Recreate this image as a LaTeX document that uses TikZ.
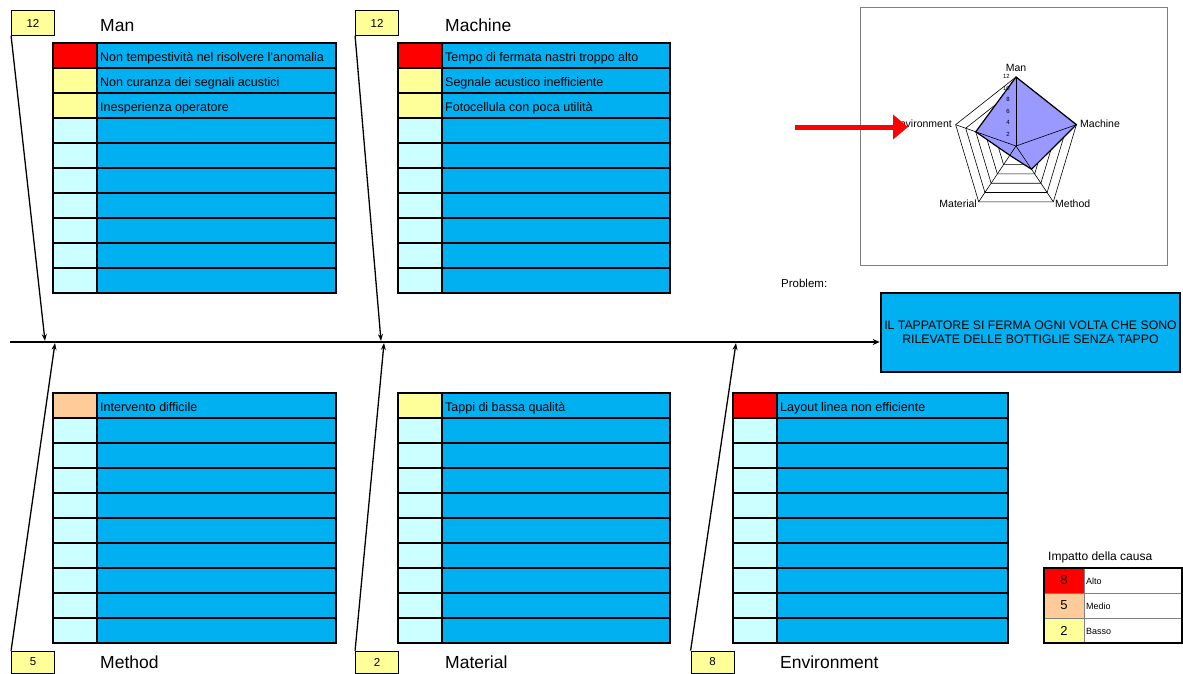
\documentclass[tikz,border=0pt]{standalone}
\usepackage{fontspec}
\setmainfont{Liberation Sans}
\usetikzlibrary{arrows.meta}
\definecolor{cellblue}{RGB}{0,176,240}
\definecolor{emptycell}{RGB}{204,255,255}
\definecolor{lowcell}{RGB}{255,255,153}
\definecolor{midcell}{RGB}{255,204,153}
\definecolor{highcell}{RGB}{255,0,0}
\definecolor{radarfill}{RGB}{153,153,255}
\tikzset{
  cause/.style={anchor=base west, inner sep=0pt, font=\fontsize{12.5}{14}\selectfont},
  heading/.style={anchor=base west, inner sep=0pt, font=\fontsize{17.5}{20}\selectfont},
  numbox/.style={draw, line width=0.8pt, fill=lowcell, minimum width=43pt, minimum height=25pt,
    inner sep=0pt, font=\fontsize{11.5}{13}\selectfont},
  problem/.style={draw, line width=2.6pt, fill=cellblue, minimum width=299pt, minimum height=79pt,
    align=center, inner sep=0pt, font=\fontsize{12.3}{14.5}\selectfont},
  spine/.style={line width=1.4pt, -{Stealth[length=7pt,width=6pt]}},
  bone/.style={line width=1.3pt, -{Stealth[length=7pt,width=5pt]}},
  rowline/.style={line width=1.3pt},
  frameline/.style={line width=2.6pt},
  radargrid/.style={line width=0.6pt},
  radarlabel/.style={inner sep=0pt, font=\fontsize{10.5}{12}\selectfont},
  tick/.style={anchor=east, inner sep=0pt, font=\fontsize{6}{7}\selectfont},
  pointer/.style={draw=highcell, line width=5pt, -{Triangle[length=15pt,width=24pt]}},
  legendnum/.style={inner sep=0pt, font=\fontsize{13}{15}\selectfont},
  legendtext/.style={anchor=base west, inner sep=0pt, font=\fontsize{9}{11}\selectfont}
}
% table: left x, top y, right x, colours of the first rows
\newcommand\causetable[4]{%
  \fill[cellblue] (#1+44,#2) rectangle (#3,#2+250);
  \fill[emptycell] (#1,#2) rectangle (#1+44,#2+250);
  \foreach \c [count=\k from 0] in {#4}
    \fill[\c] (#1,#2+25*\k) rectangle (#1+44,#2+25*\k+25);
  \foreach \k in {1,...,9}
    \draw[rowline] (#1,#2+25*\k) -- (#3,#2+25*\k);
  \draw[rowline] (#1+44,#2) -- (#1+44,#2+250);
  \draw[frameline] (#1,#2) rectangle (#3,#2+250);
}
\begin{document}
\begin{tikzpicture}[x=1pt,y=-1pt]
  \useasboundingbox (0,0) rectangle (1183,673);

  % cause tables
  \causetable{53}{43}{336}{highcell,lowcell,lowcell}
  \causetable{398}{43}{670}{highcell,lowcell,lowcell}
  \causetable{53}{393}{336}{midcell}
  \causetable{398}{393}{670}{lowcell}
  \causetable{733}{393}{1008}{highcell}

  \node[cause] (man1) at (100,61) {Non tempestività nel risolvere l'anomalia};
  \node[cause] (man2) at (100,86) {Non curanza dei segnali acustici};
  \node[cause] (man3) at (100,111) {Inesperienza operatore};
  \node[cause] (mach1) at (445,61) {Tempo di fermata nastri troppo alto};
  \node[cause] (mach2) at (445,86) {Segnale acustico inefficiente};
  \node[cause] (mach3) at (445,111) {Fotocellula con poca utilità};
  \node[cause] (meth1) at (100,411) {Intervento difficile};
  \node[cause] (mat1) at (445,411) {Tappi di bassa qualità};
  \node[cause] (env1) at (780,411) {Layout linea non efficiente};

  % headings and scores
  \node[heading] (hman) at (100,31) {Man};
  \node[heading] (hmach) at (445,31) {Machine};
  \node[heading] (hmeth) at (100,668) {Method};
  \node[heading] (hmat) at (445,668) {Material};
  \node[heading] (henv) at (780,668) {Environment};
  \node[numbox] (nman) at (33,23) {12};
  \node[numbox] (nmach) at (377,23) {12};
  \node[numbox, minimum height=22pt] (nmeth) at (33,662) {5};
  \node[numbox, minimum height=22pt] (nmat) at (377,662) {2};
  \node[numbox, minimum height=22pt] (nenv) at (712.5,662) {8};

  % spine and problem
  \node[anchor=base west, inner sep=0pt, font=\fontsize{11.5}{13}\selectfont] (plabel) at (781,287) {Problem:};
  \node[problem] (prob) at (1030.5,332.5) {IL TAPPATORE SI FERMA OGNI VOLTA CHE SONO\\RILEVATE DELLE BOTTIGLIE SENZA TAPPO};
  \coordinate (tail) at (10,342);
  \draw[spine] (tail) -- (tail -| prob.west);

  % bones
  \coordinate (jman) at (45,341);
  \coordinate (jmach) at (381,341);
  \coordinate (jmeth) at (55,343);
  \coordinate (jmat) at (384,343);
  \coordinate (jenv) at (736,343);
  \draw[bone] (nman.south west) -- (jman);
  \draw[bone] (nmach.south west) -- (jmach);
  \draw[bone] (nmeth.north west) -- (jmeth);
  \draw[bone] (nmat.north west) -- (jmat);
  \draw[bone] (nenv.north west) -- (jenv);

  % radar chart
  \draw[gray, line width=0.8pt] (860,7) rectangle (1167,265);
  \begin{scope}[shift={(1016,146)}, yscale=-1, xscale=0.92]
    \foreach \r in {11.5,23,34.5,46,57.5,69}
      \draw[radargrid] (90:\r) -- (18:\r) -- (-54:\r) -- (-126:\r) -- (162:\r) -- cycle;
    \fill[radarfill] (90:69) -- (18:69) -- (-54:28.75) -- (-126:11.5) -- (162:46) -- cycle;
    \foreach \a in {90,18,-54,-126,162}
      \draw[radargrid] (0,0) -- (\a:69);
    \draw[line width=1.2pt] (90:69) -- (18:69) -- (-54:28.75) -- (-126:11.5) -- (162:46) -- cycle;
  \end{scope}
  \node[tick] (t12) at (1010,76) {12};
  \node[tick] (t10) at (1010,88) {10};
  \node[tick] (t8) at (1010,99) {8};
  \node[tick] (t6) at (1010,111) {6};
  \node[tick] (t4) at (1010,122) {4};
  \node[tick] (t2) at (1010,134) {2};
  \node[tick] (t0) at (1010,145) {-};
  \node[radarlabel, anchor=base] (rman) at (1016,71) {Man};
  \node[radarlabel, anchor=base west] (rmach) at (1080,127) {Machine};
  \node[radarlabel, anchor=base west] (rmeth) at (1055,207) {Method};
  \node[radarlabel, anchor=base east] (rmat) at (977,207) {Material};
  \node[radarlabel, anchor=base east] (renv) at (952,127) {Environment};
  \coordinate (pfrom) at (795,127);
  \coordinate (pto) at (908,127);
  \draw[pointer] (pfrom) -- (pto);

  % legend
  \node[anchor=base west, inner sep=0pt, font=\fontsize{12}{14}\selectfont] (ltitle) at (1048,560) {Impatto della causa};
  \fill[white] (1084,568) rectangle (1182,643);
  \fill[highcell] (1044,568) rectangle (1084,593);
  \fill[midcell] (1044,593) rectangle (1084,618);
  \fill[lowcell] (1044,618) rectangle (1084,643);
  \draw[gray, line width=0.8pt] (1044,593) -- (1182,593) (1044,618) -- (1182,618) (1084,568) -- (1084,643);
  \draw[line width=1.2pt] (1044,568) rectangle (1182,643);
  \node[legendnum] (l8) at (1064,580.5) {8};
  \node[legendnum] (l5) at (1064,605.5) {5};
  \node[legendnum] (l2) at (1064,630.5) {2};
  \node[legendtext] (lalto) at (1086,584) {Alto};
  \node[legendtext] (lmedio) at (1086,609) {Medio};
  \node[legendtext] (lbasso) at (1086,634) {Basso};
\end{tikzpicture}
\end{document}
